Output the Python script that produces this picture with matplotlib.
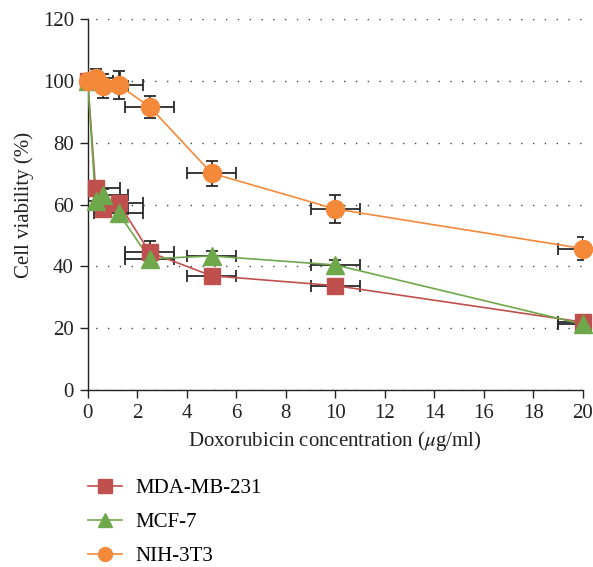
import matplotlib.pyplot as plt
import numpy as np

plt.rcParams["font.family"] = ["Liberation Serif", "DejaVu Serif"]
plt.rcParams["mathtext.fontset"] = "stix"

# Doxorubicin concentrations (ug/ml)
conc = [0, 0.3125, 0.625, 1.25, 2.5, 5, 10, 20]
conc_err = [1, 1, 1, 1, 1, 1, 1, 1]

mda_mb_231 = [100, 65.5, 58.7, 60.5, 44.6, 37.0, 33.8, 22.0]
mda_mb_231_err = [1.5, 2, 2, 2, 3.5, 1.5, 1.5, 1]

mcf_7 = [100, 61.3, 63.0, 57.2, 42.5, 43.4, 40.5, 21.3]
mcf_7_err = [1.5, 2, 2, 2, 1.5, 1.5, 1.5, 1]

nih_3t3 = [100, 101.0, 98.4, 98.7, 91.7, 70.2, 58.6, 45.8]
nih_3t3_err = [1.5, 3, 3.8, 4.6, 3.6, 4.0, 4.6, 3.7]

series = [
    ("MDA-MB-231", mda_mb_231, mda_mb_231_err, "#C0504D", "s", 12),
    ("MCF-7", mcf_7, mcf_7_err, "#6FA84A", "^", 12.5),
    ("NIH-3T3", nih_3t3, nih_3t3_err, "#F5893A", "o", 13),
]

FS = 15

fig = plt.figure(figsize=(5.93, 5.67), dpi=100)
ax = fig.add_axes([0.148, 0.312, 0.835, 0.654])

handles = []
for name, vals, err, color, marker, ms in series:
    # error bars stay inside the axes, markers may hang over the edge
    ax.errorbar(conc, vals, xerr=conc_err, yerr=err, fmt="none",
                ecolor="#2a2a2a", elinewidth=1.3, capsize=4, capthick=1.3,
                zorder=2)
    ax.plot(conc, vals, color=color, lw=1.2, zorder=3)
    ax.plot(conc, vals, ls="none", marker=marker, ms=ms, color=color,
            mec=color, clip_on=False, zorder=4)
    h, = ax.plot([], [], color=color, lw=1.2, marker=marker, ms=10,
                 mec=color, label=name)
    handles.append(h)

ax.set_xlim(0, 20)
ax.set_ylim(0, 120)
ax.set_xticks(np.arange(0, 21, 2))
ax.set_yticks(np.arange(0, 121, 20))
ax.tick_params(labelsize=FS, length=6, width=1, direction="out",
               colors="#222222", pad=4)
ax.spines["top"].set_visible(False)
ax.spines["right"].set_visible(False)
for s in ("left", "bottom"):
    ax.spines[s].set_color("#222222")
    ax.spines[s].set_linewidth(1)

ax.yaxis.grid(True, color="#444444", lw=1.0, linestyle=(3, (1, 7.5)))
ax.set_axisbelow(True)

ax.set_xlabel(r"Doxorubicin concentration ($\mu$g/ml)", fontsize=FS,
              labelpad=4, color="#222222")
ax.set_ylabel("Cell viability (%)", fontsize=FS, labelpad=6,
              color="#222222")

fig.legend(handles=handles, loc="upper left", bbox_to_anchor=(0.135, 0.171),
           frameon=False, fontsize=FS, handlelength=1.6, labelspacing=0.7,
           handletextpad=0.65, borderaxespad=0)

fig.savefig("out.png", dpi=100)
